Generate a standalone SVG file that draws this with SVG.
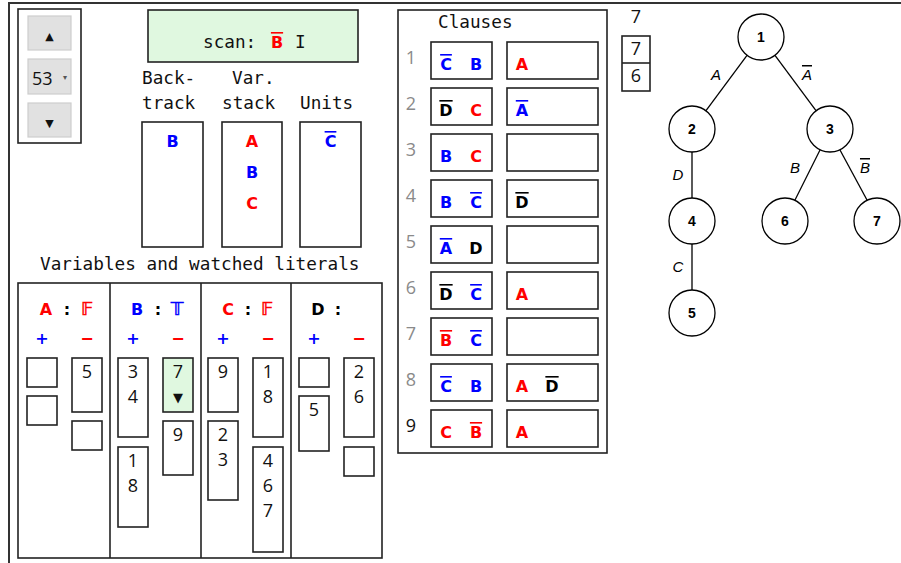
<svg xmlns="http://www.w3.org/2000/svg" width="901" height="563" viewBox="0 0 901 563">
<style>
.mono{font-family:"DejaVu Sans Mono","Liberation Mono",monospace;font-size:17.7px;fill:#111}
.lit{font-family:"DejaVu Sans","Liberation Sans",sans-serif;font-weight:bold;font-size:16px;text-anchor:middle}
.ds{font-family:"DejaVu Sans",sans-serif;font-size:18px;text-anchor:middle;stroke-width:0.5}
.r{fill:#f00}.b{fill:#00f}.k{fill:#000}
.ds.r{stroke:#f00}.ds.b{stroke:#00f}
.ov{text-decoration:overline}
.num{font-family:"Open Sans","Liberation Sans",sans-serif;font-size:18px;fill:#111;text-anchor:middle}
.cn{font-family:"Open Sans","Liberation Sans",sans-serif;font-size:18px;fill:#8a8a8a;text-anchor:middle}
.box{fill:#fff;stroke:#222;stroke-width:1.6}
.frame{fill:none;stroke:#333;stroke-width:2}
.btn{fill:#e1e1e1;stroke:#cdcdcd;stroke-width:1.2}
.tri{font-family:"DejaVu Sans",sans-serif;fill:#111;text-anchor:middle}
.node circle{fill:#fff;stroke:#000;stroke-width:1.3}
.node text{font-family:"Liberation Sans",Arial,sans-serif;font-weight:bold;font-size:14px;text-anchor:middle;fill:#000}
.edge line{stroke:#000;stroke-width:1.3}
.el{font-family:"Liberation Sans",Arial,sans-serif;font-style:italic;font-size:15px;fill:#000;text-anchor:middle}
</style>
<rect x="0" y="0" width="901" height="563" fill="#fff"/>
<rect class="frame" x="9" y="3" width="1000" height="620"/>

<g id="spinner">
<rect class="box" x="18" y="9" width="63" height="134"/>
<rect class="btn" x="28" y="16" width="43" height="34"/>
<text class="tri" x="49.5" y="40" font-size="11">▲</text>
<rect class="btn" x="28" y="59" width="43" height="35"/>
<text x="32" y="85" font-family="Open Sans, Liberation Sans, sans-serif" font-size="18" fill="#111">53</text>
<text class="tri" x="65" y="80" font-size="8" style="fill:#555">▾</text>
<rect class="btn" x="28" y="103" width="43" height="34"/>
<text class="tri" x="49.5" y="127" font-size="11">▼</text>
</g>

<g id="scan">
<rect x="148" y="10" width="210" height="52" fill="#e0f8e0" stroke="#222" stroke-width="1.6"/>
<text class="mono" x="203" y="48">scan:</text>
<text class="lit r ov" x="277" y="48">B</text>
<text class="mono" x="295" y="48">I</text>
</g>

<g id="backtrack">
<text class="mono" x="142" y="83.5">Back-</text>
<text class="mono" x="142" y="109">track</text>
<rect class="box" x="142" y="122" width="61" height="125"/>
<text class="lit b" x="172.5" y="147">B</text>
</g>
<g id="varstack">
<text class="mono" x="232" y="83.5">Var.</text>
<text class="mono" x="222" y="109">stack</text>
<rect class="box" x="222" y="122" width="60" height="125"/>
<text class="lit r" x="252" y="147">A</text>
<text class="lit b" x="252" y="178">B</text>
<text class="lit r" x="252" y="209">C</text>
</g>
<g id="units">
<text class="mono" x="300" y="109">Units</text>
<rect class="box" x="300" y="122" width="61" height="125"/>
<text class="lit b ov" x="330.5" y="147">C</text>
</g>

<g id="variables">
<text class="mono" x="40" y="270">Variables and watched literals</text>
<rect class="box" x="18" y="283" width="364" height="275"/>
<line x1="110" y1="283" x2="110" y2="558" stroke="#222" stroke-width="1.6"/>
<line x1="201" y1="283" x2="201" y2="558" stroke="#222" stroke-width="1.6"/>
<line x1="291" y1="283" x2="291" y2="558" stroke="#222" stroke-width="1.6"/>

<g id="varA">
<text class="lit r" x="46" y="315">A</text><text class="lit k" x="67" y="315">:</text><text class="ds r" x="87" y="315">𝔽</text>
<text class="lit b" x="42" y="344">+</text><text class="lit r" x="87" y="344">−</text>
<rect class="box" x="27" y="358" width="30" height="29"/>
<rect class="box" x="27" y="396" width="30" height="29"/>
<rect class="box" x="72" y="358" width="30" height="54"/>
<text class="num" x="87" y="377.5">5</text>
<rect class="box" x="72" y="421" width="30" height="29"/>
</g>

<g id="varB">
<text class="lit b" x="137" y="315">B</text><text class="lit k" x="158" y="315">:</text><text class="ds b" x="177" y="315">𝕋</text>
<text class="lit b" x="133" y="344">+</text><text class="lit r" x="178" y="344">−</text>
<rect class="box" x="118" y="358" width="30" height="79"/>
<text class="num" x="133" y="377.5">3</text><text class="num" x="133" y="402.5">4</text>
<rect class="box" x="118" y="447" width="30" height="80"/>
<text class="num" x="133" y="466.5">1</text><text class="num" x="133" y="491.5">8</text>
<rect x="163" y="358" width="30" height="54" fill="#e0f8e0" stroke="#222" stroke-width="1.6"/>
<text class="num" x="178" y="377.5">7</text>
<text class="tri" x="178" y="402" font-size="13">▼</text>
<rect class="box" x="163" y="421" width="30" height="54"/>
<text class="num" x="178" y="440.5">9</text>
</g>

<g id="varC">
<text class="lit r" x="228" y="315">C</text><text class="lit k" x="248" y="315">:</text><text class="ds r" x="267" y="315">𝔽</text>
<text class="lit b" x="223" y="344">+</text><text class="lit r" x="268" y="344">−</text>
<rect class="box" x="208" y="358" width="30" height="54"/>
<text class="num" x="223" y="377.5">9</text>
<rect class="box" x="208" y="421" width="30" height="79"/>
<text class="num" x="223" y="440.5">2</text><text class="num" x="223" y="465.5">3</text>
<rect class="box" x="253" y="358" width="30" height="79"/>
<text class="num" x="268" y="377.5">1</text><text class="num" x="268" y="402.5">8</text>
<rect class="box" x="253" y="447" width="30" height="105"/>
<text class="num" x="268" y="466.5">4</text><text class="num" x="268" y="491.5">6</text><text class="num" x="268" y="516.5">7</text>
</g>

<g id="varD">
<text class="lit k" x="318" y="315">D</text><text class="lit k" x="338" y="315">:</text>
<text class="lit b" x="314" y="344">+</text><text class="lit r" x="359" y="344">−</text>
<rect class="box" x="299" y="358" width="30" height="29"/>
<rect class="box" x="299" y="396" width="30" height="55"/>
<text class="num" x="314" y="416">5</text>
<rect class="box" x="344" y="358" width="30" height="79"/>
<text class="num" x="359" y="377.5">2</text><text class="num" x="359" y="402.5">6</text>
<rect class="box" x="344" y="447" width="30" height="29"/>
</g>
</g>

<g id="clauses">
<rect class="box" x="398" y="10" width="209" height="443"/>
<text class="mono" x="438" y="28">Clauses</text>

<g id="clause1">
<text class="cn" x="411" y="64">1</text>
<rect class="box" x="431" y="42" width="61" height="37"/><rect class="box" x="507" y="42" width="91" height="37"/>
<text class="lit b ov" x="446" y="70">C</text><text class="lit b" x="476" y="70">B</text>
<text class="lit r" x="522" y="70">A</text>
</g>
<g id="clause2">
<text class="cn" x="411" y="110">2</text>
<rect class="box" x="431" y="88" width="61" height="37"/><rect class="box" x="507" y="88" width="91" height="37"/>
<text class="lit k ov" x="446" y="116">D</text><text class="lit r" x="476" y="116">C</text>
<text class="lit b ov" x="522" y="116">A</text>
</g>
<g id="clause3">
<text class="cn" x="411" y="156">3</text>
<rect class="box" x="431" y="134" width="61" height="37"/><rect class="box" x="507" y="134" width="91" height="37"/>
<text class="lit b" x="446" y="162">B</text><text class="lit r" x="476" y="162">C</text>
</g>
<g id="clause4">
<text class="cn" x="411" y="202">4</text>
<rect class="box" x="431" y="180" width="61" height="37"/><rect class="box" x="507" y="180" width="91" height="37"/>
<text class="lit b" x="446" y="208">B</text><text class="lit b ov" x="476" y="208">C</text>
<text class="lit k ov" x="522" y="208">D</text>
</g>
<g id="clause5">
<text class="cn" x="411" y="248">5</text>
<rect class="box" x="431" y="226" width="61" height="37"/><rect class="box" x="507" y="226" width="91" height="37"/>
<text class="lit b ov" x="446" y="254">A</text><text class="lit k" x="476" y="254">D</text>
</g>
<g id="clause6">
<text class="cn" x="411" y="294">6</text>
<rect class="box" x="431" y="272" width="61" height="37"/><rect class="box" x="507" y="272" width="91" height="37"/>
<text class="lit k ov" x="446" y="300">D</text><text class="lit b ov" x="476" y="300">C</text>
<text class="lit r" x="522" y="300">A</text>
</g>
<g id="clause7">
<text class="cn" x="411" y="340">7</text>
<rect class="box" x="431" y="318" width="61" height="37"/><rect class="box" x="507" y="318" width="91" height="37"/>
<text class="lit r ov" x="446" y="346">B</text><text class="lit b ov" x="476" y="346">C</text>
</g>
<g id="clause8">
<text class="cn" x="411" y="386">8</text>
<rect class="box" x="431" y="364" width="61" height="37"/><rect class="box" x="507" y="364" width="91" height="37"/>
<text class="lit b ov" x="446" y="392">C</text><text class="lit b" x="476" y="392">B</text>
<text class="lit r" x="522" y="392">A</text><text class="lit k ov" x="552" y="392">D</text>
</g>
<g id="clause9">
<text class="cn" x="411" y="432" style="fill:#111">9</text>
<rect class="box" x="431" y="410" width="61" height="37"/><rect class="box" x="507" y="410" width="91" height="37"/>
<text class="lit r" x="446" y="438">C</text><text class="lit r ov" x="476" y="438">B</text>
<text class="lit r" x="522" y="438">A</text>
</g>
</g>

<g id="nodestack">
<text class="num" x="636" y="23">7</text>
<rect class="box" x="622" y="36" width="28" height="55"/>
<line x1="622" y1="63" x2="650" y2="63" stroke="#222" stroke-width="1.6"/>
<text class="num" x="636" y="55">7</text>
<text class="num" x="636" y="82">6</text>
</g>

<g id="edges" class="edge">
<line x1="747" y1="55.4" x2="706" y2="110.6"/>
<line x1="775" y1="55.4" x2="816" y2="110.6"/>
<line x1="692" y1="152" x2="692" y2="198"/>
<line x1="820" y1="150" x2="795" y2="200"/>
<line x1="840" y1="150" x2="867" y2="200"/>
<line x1="692" y1="244" x2="692" y2="290"/>
<text class="el" x="716" y="80">A</text>
<text class="el ov" x="807" y="80">A</text>
<text class="el" x="678" y="180">D</text>
<text class="el" x="795" y="173">B</text>
<text class="el ov" x="865" y="173">B</text>
<text class="el" x="678" y="272">C</text>
</g>

<g id="n1" class="node"><circle cx="761" cy="37" r="23"/><text x="761" y="42">1</text></g>
<g id="n2" class="node"><circle cx="692" cy="129" r="23"/><text x="692" y="134">2</text></g>
<g id="n3" class="node"><circle cx="830" cy="129" r="23"/><text x="830" y="134">3</text></g>
<g id="n4" class="node"><circle cx="692" cy="221" r="23"/><text x="692" y="226">4</text></g>
<g id="n6" class="node"><circle cx="785" cy="221" r="23"/><text x="785" y="226">6</text></g>
<g id="n7" class="node"><circle cx="877" cy="221" r="23"/><text x="877" y="226">7</text></g>
<g id="n5" class="node"><circle cx="692" cy="313" r="23"/><text x="692" y="318">5</text></g>
</svg>
